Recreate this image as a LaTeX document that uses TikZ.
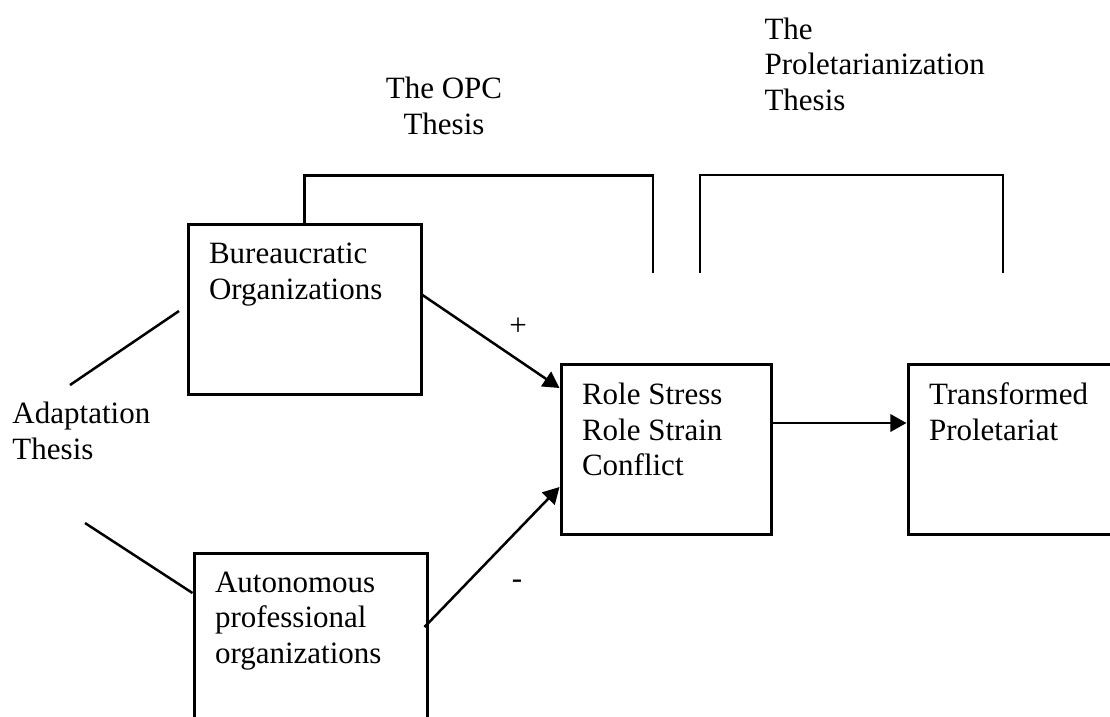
\documentclass[tikz,border=0pt]{standalone}
\usepackage{fontspec}
\setmainfont{Liberation Serif}
\usetikzlibrary{positioning,arrows.meta,calc}
\tikzset{
  box/.style={rectangle,draw,line width=1.2pt,minimum height=68pt,inner sep=0pt},
  txt/.style={inner sep=0pt,align=left,font=\fontsize{12.4}{14.2}\selectfont},
  edge/.style={-{Triangle[length=6.5pt,width=7pt]},line width=1pt},
  plain/.style={line width=1pt},
}

\begin{document}
\begin{tikzpicture}[x=0.4pt,y=-0.4pt]
\useasboundingbox (0,0) rectangle (1110,716);

% Boxes
\node[box,minimum width=93.2pt] (bur)   at (304.5,309) {};
\node[box,minimum width=93.2pt] (aut)   at (310.5,638) {};
\node[box,minimum width=84pt]   (role)  at (666,449)   {};
\node[box,minimum width=84pt]   (trans) at (1013,449)  {};

% Box texts
\node[txt,anchor=north west] (burtxt)   at ($(bur.north west)+(22,20)$)   {Bureaucratic\\Organizations};
\node[txt,anchor=north west] (auttxt)   at ($(aut.north west)+(22,20)$)   {Autonomous\\professional\\organizations};
\node[txt,anchor=north west] (roletxt)  at ($(role.north west)+(22,20)$)  {Role Stress\\Role Strain\\Conflict};
\node[txt,anchor=north west] (transtxt) at ($(trans.north west)+(22,20)$) {Transformed\\Proletariat};

% Thesis labels
\node[txt,align=center] (opc)   at (444,106) {The OPC\\Thesis};
\node[txt,anchor=west]  (prol)  at (764,64)  {The\\Proletarianization\\Thesis};
\node[txt,anchor=west]  (adapt) at (12,431)  {Adaptation\\Thesis};
\node[txt] (plus)  at (518,327) {+};
\node[txt] (minus) at (517,584) {-};

% Brackets
\coordinate (opcend) at (653,273);
\coordinate (prola)  at (700,273);
\coordinate (prolb)  at (1003,273);
\draw[plain] (bur.north) -- ++(0,-47) -| (opcend);
\draw[plain] (prola) -- ++(0,-98) -| (prolb);

% Adaptation lines
\coordinate (adup)  at (70,385);
\coordinate (adupb) at (179,311);
\coordinate (adlo)  at (85,523);
\draw[plain] (adup) -- (adupb);
\draw[plain] (adlo) -- ($(aut.west)+(0,-45)$);

% Arrows
\draw[edge] ($(bur.east)+(0,-14)$) -- ($(role.west)+(0,-61)$);
\draw[edge] ($(aut.east)+(-4,-11)$) -- ($(role.west)+(0,38)$);
\draw[edge] ($(role.east)+(0,-26)$) -- ($(trans.west)+(0,-26)$);

\end{tikzpicture}
\end{document}
